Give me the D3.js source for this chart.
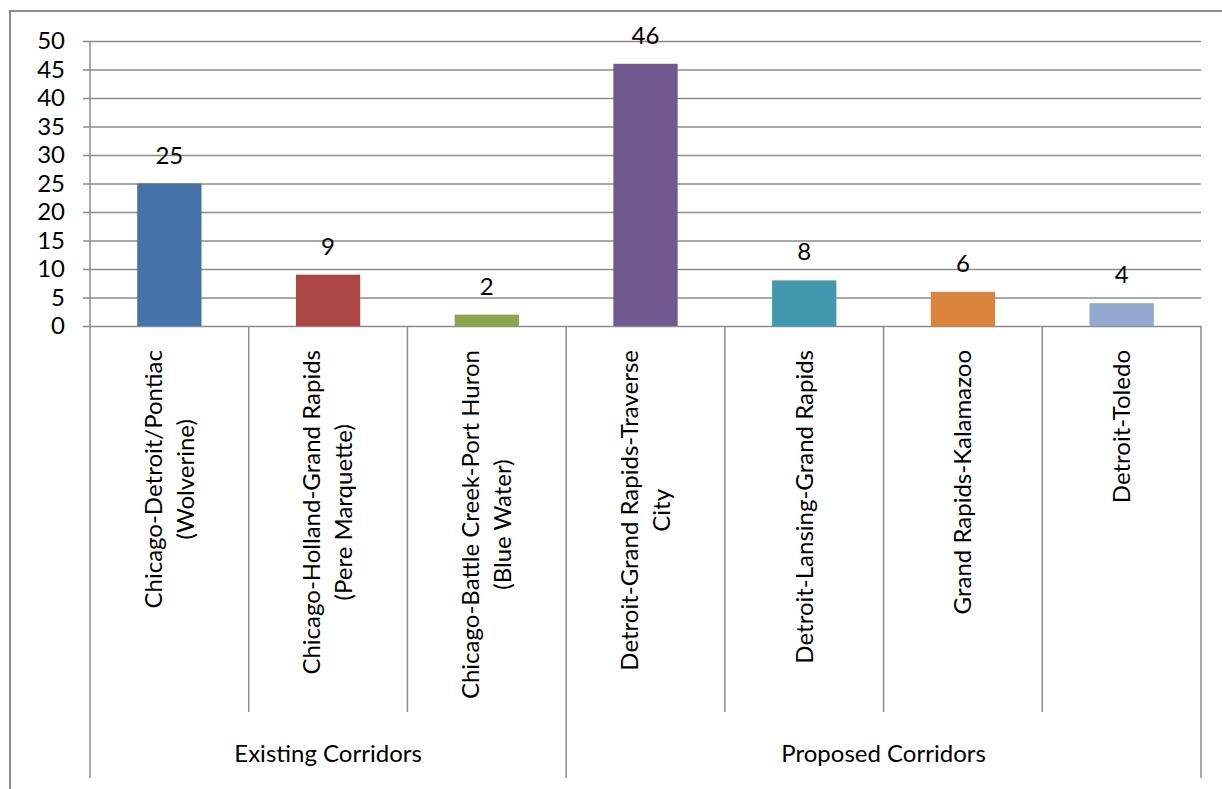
<!DOCTYPE html>
<html>
<head>
<meta charset="utf-8">
<script src="https://cdn.jsdelivr.net/npm/d3@7"></script>
<style>
    body { margin: 0; background: #fff; }
    svg text { font-family: Lato, "Open Sans", sans-serif; fill: #000; }
</style>
</head>
<body>
<div id="chart"></div>
<script>
// chart data
let categories = [
    'Chicago-Detroit/Pontiac (Wolverine)',
    'Chicago-Holland-Grand Rapids (Pere Marquette)',
    'Chicago-Battle Creek-Port Huron (Blue Water)',
    'Detroit-Grand Rapids-Traverse City',
    'Detroit-Lansing-Grand Rapids',
    'Grand Rapids-Kalamazoo',
    'Detroit-Toledo'
];
// how each category label wraps
let labelLines = [
    ['Chicago-Detroit/Pontiac', '(Wolverine)'],
    ['Chicago-Holland-Grand Rapids', '(Pere Marquette)'],
    ['Chicago-Battle Creek-Port Huron', '(Blue Water)'],
    ['Detroit-Grand Rapids-Traverse', 'City'],
    ['Detroit-Lansing-Grand Rapids'],
    ['Grand Rapids-Kalamazoo'],
    ['Detroit-Toledo']
];
let values = [25, 9, 2, 46, 8, 6, 4];
let groups = ['Existing Corridors', 'Proposed Corridors'];
let groupOf = [0, 0, 0, 1, 1, 1, 1];
let yTicks = [0, 5, 10, 15, 20, 25, 30, 35, 40, 45, 50];
let colors = ['#4572A7', '#AA4643', '#89A54E', '#71588F', '#4198AF', '#DB843D', '#93A9CF'];

// layout
let config = {
    svg: {width: 1222, height: 789},
    plot: {x: 90, y: 41, width: 1111, height: 285},
    gridColor: '#8c8c8c',
    font: 24
};

let svg = d3.select('#chart')
    .append('svg')
        .attr('width', config.svg.width)
        .attr('height', config.svg.height);

// outer chart frame (runs off the page right and bottom)
svg.append('rect')
    .attr('x', 10)
    .attr('y', 11)
    .attr('width', 1240)
    .attr('height', 800)
    .attr('fill', 'none')
    .attr('stroke', config.gridColor)
    .attr('stroke-width', 2);

let plot = svg.append('g')
    .attr('transform', `translate(${config.plot.x},${config.plot.y})`);

let x = d3.scaleBand()
    .domain(categories)
    .range([0, config.plot.width])
    .padding(0);

let y = d3.scaleLinear()
    .domain([0, 50])
    .range([config.plot.height, 0]);

// y axis with gridlines
let yAxis = g => g
    .call(d3.axisLeft(y).tickValues(yTicks).tickSizeInner(-config.plot.width).tickSizeOuter(0).tickPadding(25))
    .call(g => g.select('.domain').remove())
    .call(g => g.selectAll('.tick line')
        .attr('x1', -7)
        .attr('stroke', config.gridColor)
        .attr('stroke-width', 1.5))
    .call(g => g.selectAll('.tick text')
        .attr('font-size', config.font)
        .attr('font-family', null));

plot.append('g').call(yAxis);

// bars
let barW = x.bandwidth() * 0.405;
plot.append('g')
    .selectAll('rect')
    .data(values)
    .join('rect')
        .attr('x', (d, i) => x(categories[i]) + (x.bandwidth() - barW) / 2)
        .attr('y', d => y(d))
        .attr('width', barW)
        .attr('height', d => y(0) - y(d))
        .attr('fill', (d, i) => colors[i]);

// value labels
plot.append('g')
    .selectAll('text')
    .data(values)
    .join('text')
        .attr('x', (d, i) => x(categories[i]) + x.bandwidth() / 2)
        .attr('y', d => y(d) - 20)
        .attr('text-anchor', 'middle')
        .attr('font-size', config.font)
        .text(d => d);

// vertical axis line and category / group separators
let bottom = 778 - config.plot.y;
let catBottom = 712 - config.plot.y;
let lineStyle = s => s.attr('stroke', config.gridColor).attr('stroke-width', 1.5);

plot.append('line')
    .attr('x1', 0).attr('x2', 0)
    .attr('y1', 0).attr('y2', bottom)
    .call(lineStyle);

plot.append('line')
    .attr('x1', config.plot.width).attr('x2', config.plot.width)
    .attr('y1', y(0)).attr('y2', bottom)
    .call(lineStyle);

plot.append('g')
    .selectAll('line')
    .data(categories.slice(1))
    .join('line')
        .attr('x1', d => x(d)).attr('x2', d => x(d))
        .attr('y1', y(0))
        .attr('y2', (d, i) => groupOf[i + 1] !== groupOf[i] ? bottom : catBottom)
        .call(lineStyle);

// rotated category labels: block hangs from the top, lines centred in the block
let lineGap = 32;
let catLabels = plot.append('g')
    .selectAll('g')
    .data(categories)
    .join('g')
        .attr('transform', d => `translate(${x(d) + x.bandwidth() / 2},${350 - config.plot.y}) rotate(-90)`);

catLabels.each(function(d, i) {
    let lines = labelLines[i];
    let texts = d3.select(this).selectAll('text')
        .data(lines)
        .join('text')
            .attr('text-anchor', 'middle')
            .attr('font-size', config.font)
            .attr('y', (t, j) => (j - (lines.length - 1) / 2) * lineGap)
            .attr('dy', '0.35em')
            .text(t => t);
    let maxLen = d3.max(texts.nodes(), n => n.getComputedTextLength());
    texts.attr('x', -maxLen / 2);
});

// group labels
plot.append('g')
    .selectAll('text')
    .data(groups)
    .join('text')
        .attr('x', (g, gi) => {
            let idx = d3.range(categories.length).filter(i => groupOf[i] === gi);
            let x0 = x(categories[idx[0]]);
            let x1 = x(categories[idx[idx.length - 1]]) + x.bandwidth();
            return (x0 + x1) / 2;
        })
        .attr('y', 762 - config.plot.y)
        .attr('text-anchor', 'middle')
        .attr('font-size', config.font)
        .text(g => g);
</script>
</body>
</html>
